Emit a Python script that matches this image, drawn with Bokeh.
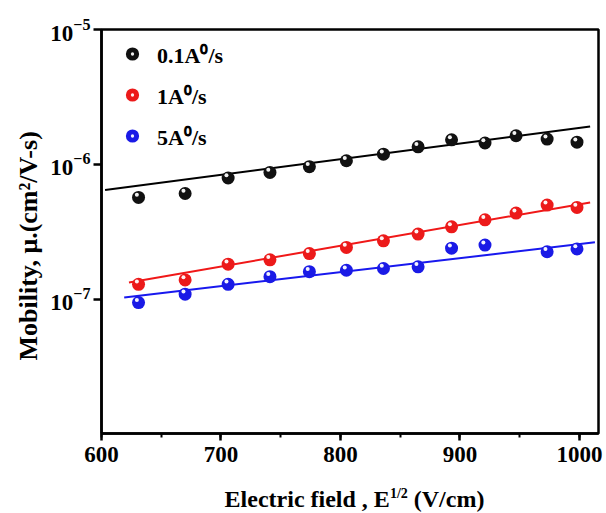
from bokeh.plotting import figure
from bokeh.layouts import column
from bokeh.models import (Range1d, SingleIntervalTicker, LogTicker, Legend,
                          LegendItem, ColumnDataSource, Div, Title)
from bokeh.embed import file_html
from bokeh.resources import INLINE

# ---- data: sqrt(E) in (V/cm)^(1/2), mobility in cm^2/V-s ----
field_sqrt = [631, 670, 706, 741, 774, 805, 836, 865, 893, 921, 947, 973, 998]
mu_01 = [5.69e-7, 6.08e-7, 7.92e-7, 8.72e-7, 9.61e-7, 1.064e-6, 1.19e-6,
         1.35e-6, 1.52e-6, 1.44e-6, 1.63e-6, 1.54e-6, 1.46e-6]
mu_1 = [1.29e-7, 1.39e-7, 1.82e-7, 1.96e-7, 2.18e-7, 2.42e-7, 2.71e-7,
        3.04e-7, 3.44e-7, 3.88e-7, 4.35e-7, 4.99e-7, 4.79e-7]
field_sqrt_5 = [631, 670, 706, 741, 774, 805, 836, 865, 893, 921, 973, 998]
mu_5 = [9.44e-8, 1.09e-7, 1.29e-7, 1.47e-7, 1.60e-7, 1.64e-7, 1.69e-7,
        1.74e-7, 2.39e-7, 2.52e-7, 2.25e-7, 2.36e-7]

# linear fits of log(mu) vs sqrt(E), given by their end points
fit_01_x, fit_01_y = [603, 1009], [6.46e-7, 1.91e-6]
fit_1_x, fit_1_y = [623, 1009], [1.33e-7, 5.22e-7]
fit_5_x, fit_5_y = [619, 1013], [1.03e-7, 2.64e-7]

labels = ["0.1A\u2070/s", "1A\u2070/s", "5A\u2070/s"]
y_title = "Mobility, \u03bc.(cm\u00b2/V-s)"

SERIF = "Liberation Serif"

p = figure(width=606, height=482, output_backend="svg", toolbar_location=None,
           y_axis_type="log", x_range=Range1d(600, 1016),
           y_range=Range1d(1.01e-8, 1e-5),
           min_border_left=101, min_border_right=8, min_border_top=29,
           min_border_bottom=49)
p.background_fill_color = "white"
p.border_fill_color = "white"
p.grid.visible = False
p.outline_line_color = "black"
p.outline_line_width = 2.5

# axes
xa = p.xaxis[0]
xa.ticker = SingleIntervalTicker(interval=100, num_minor_ticks=2)
ya = p.yaxis[0]
ya.ticker = LogTicker(num_minor_ticks=0)
for ax in (xa, ya):
    ax.axis_line_width = 2.5
    ax.axis_line_color = "black"
    ax.major_tick_line_width = 2.5
    ax.major_tick_line_color = "black"
    ax.minor_tick_line_width = 2
    ax.minor_tick_line_color = "black"
    ax.major_tick_in = 0
    ax.minor_tick_in = 0
    ax.major_label_text_font = SERIF
    ax.major_label_text_font_style = "bold"
    ax.major_label_text_font_size = "23px"
    ax.major_label_text_color = "black"
xa.major_tick_out = 7
xa.minor_tick_out = 4
xa.major_label_standoff = 6
ya.major_tick_out = 8
ya.minor_tick_line_color = None
ya.major_label_standoff = 3

# y-axis title, anchored at its start so it can sit a little below centre
p.add_layout(Title(text=y_title, align="left", offset=73, standoff=10,
                   text_font=SERIF, text_font_style="bold",
                   text_font_size="26px", text_color="black"), "left")

# fit lines
p.line(fit_01_x, fit_01_y, line_color="black", line_width=2)
p.line(fit_1_x, fit_1_y, line_color="#f01818", line_width=2)
p.line(fit_5_x, fit_5_y, line_color="#1818ee", line_width=2)

# shaded balls: body plus a small specular highlight up and to the left
def balls(xs, ys, body):
    src = ColumnDataSource(dict(
        x=xs, y=ys,
        hx=[v - 1.4 for v in xs],
        hy=[v * 1.047 for v in ys]))
    r1 = p.scatter("x", "y", source=src, size=13, fill_color=body, line_color=None)
    r2 = p.scatter("hx", "hy", source=src, marker="dot", size=16,
                   line_color="white", line_alpha=0.95)
    return [r1, r2]

r_01 = balls(field_sqrt, mu_01, "#111111")
r_1 = balls(field_sqrt, mu_1, "#ec1a1a")
r_5 = balls(field_sqrt_5, mu_5, "#1a1ae6")

legend = Legend(items=[LegendItem(label=labels[0], renderers=r_01),
                       LegendItem(label=labels[1], renderers=r_1),
                       LegendItem(label=labels[2], renderers=r_5)],
                location="top_left", margin=8, padding=0, spacing=8,
                glyph_width=46, glyph_height=33, label_standoff=2,
                label_text_font=SERIF, label_text_font_style="bold",
                label_text_font_size="22px", label_text_color="black",
                border_line_color=None, background_fill_alpha=0)
p.add_layout(legend)

# x-axis title with a superscript exponent
x_title = Div(
    text=('Electric field , E<span style="font-size:14px; position:relative; '
          'top:-9px">1/2</span> (V/cm)'),
    width=606, height=30,
    styles={"font-family": SERIF, "font-weight": "bold", "font-size": "24px",
            "line-height": "24px", "color": "black", "text-align": "center",
            "padding-left": "101px", "padding-right": "8px",
            "box-sizing": "border-box", "white-space": "nowrap"})

layout = column(p, x_title, spacing=0)
open("out.html", "w").write(file_html(layout, INLINE))
